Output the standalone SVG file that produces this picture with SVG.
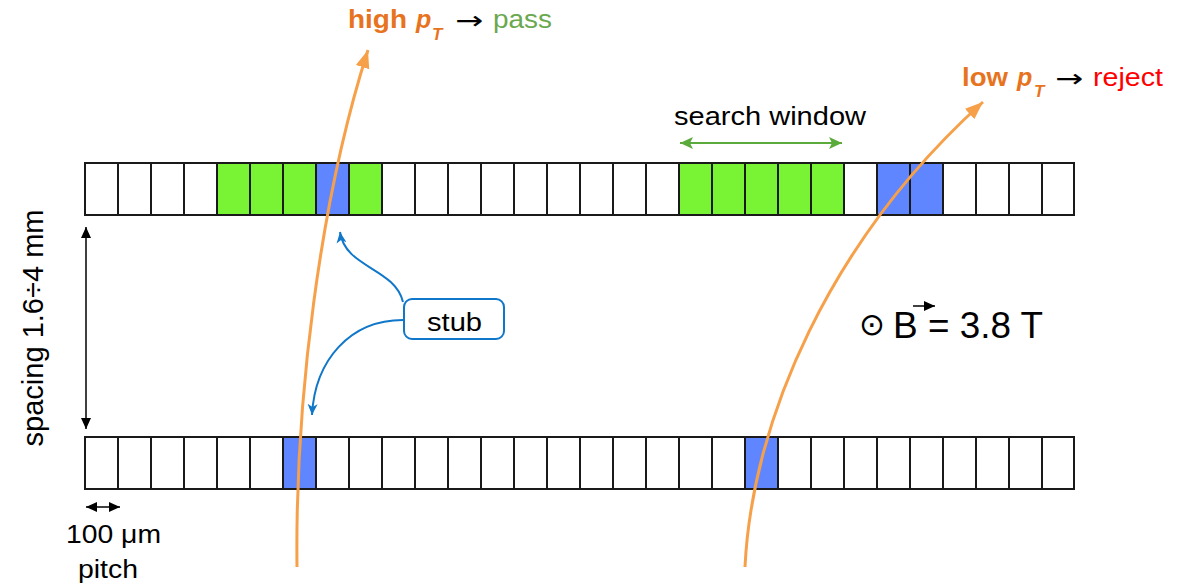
<svg xmlns="http://www.w3.org/2000/svg" width="1194" height="584" viewBox="0 0 1194 584">
<defs>
<style>
.c{fill:#fff;stroke:#1a1a1a;stroke-width:2}
.g{fill:#78F434;stroke:#1a1a1a;stroke-width:2}
.b{fill:#5F86FF;stroke:#1a1a1a;stroke-width:2}
.t{font-family:"Liberation Sans",Arial,sans-serif}
.ar{font-family:"DejaVu Sans",sans-serif}
.trk{fill:none;stroke:#F7A04A;stroke-width:3}
.stubl{fill:none;stroke:#1077C9;stroke-width:2}
</style>
<marker id="ao" markerUnits="userSpaceOnUse" markerWidth="20" markerHeight="20" viewBox="0 0 20 20" refX="18" refY="10" orient="auto"><path d="M0,3 L18,10 L0,17 Z" fill="#F7A04A"/></marker>
<marker id="ab" markerUnits="userSpaceOnUse" markerWidth="12" markerHeight="12" viewBox="0 0 12 12" refX="11" refY="6" orient="auto-start-reverse"><path d="M0,1 L11,6 L0,11 L3,6 Z" fill="#1077C9"/></marker>
<marker id="ak" markerUnits="userSpaceOnUse" markerWidth="12" markerHeight="12" viewBox="0 0 12 12" refX="11" refY="6" orient="auto-start-reverse"><path d="M0,1 L11,6 L0,11 Z" fill="#000"/></marker>
<marker id="ag" markerUnits="userSpaceOnUse" markerWidth="14" markerHeight="14" viewBox="0 0 14 14" refX="13" refY="7" orient="auto-start-reverse"><path d="M0,1 L13,7 L0,13 L3,7 Z" fill="#5AAA3C"/></marker>
</defs>
<rect width="1194" height="584" fill="#fff"/>

<g id="top-strip">
<rect class="c" x="85" y="163" width="33" height="52"/><rect class="c" x="118" y="163" width="33" height="52"/><rect class="c" x="151" y="163" width="33" height="52"/><rect class="c" x="184" y="163" width="33" height="52"/>
<rect class="g" x="217" y="163" width="33" height="52"/><rect class="g" x="250" y="163" width="33" height="52"/><rect class="g" x="283" y="163" width="33" height="52"/><rect class="b" x="316" y="163" width="33" height="52"/><rect class="g" x="349" y="163" width="33" height="52"/>
<rect class="c" x="382" y="163" width="33" height="52"/><rect class="c" x="415" y="163" width="33" height="52"/><rect class="c" x="448" y="163" width="33" height="52"/><rect class="c" x="481" y="163" width="33" height="52"/><rect class="c" x="514" y="163" width="33" height="52"/><rect class="c" x="547" y="163" width="33" height="52"/><rect class="c" x="580" y="163" width="33" height="52"/><rect class="c" x="613" y="163" width="33" height="52"/><rect class="c" x="646" y="163" width="33" height="52"/>
<rect class="g" x="679" y="163" width="33" height="52"/><rect class="g" x="712" y="163" width="33" height="52"/><rect class="g" x="745" y="163" width="33" height="52"/><rect class="g" x="778" y="163" width="33" height="52"/><rect class="g" x="811" y="163" width="33" height="52"/>
<rect class="c" x="844" y="163" width="33" height="52"/><rect class="b" x="877" y="163" width="33" height="52"/><rect class="b" x="910" y="163" width="33" height="52"/>
<rect class="c" x="943" y="163" width="33" height="52"/><rect class="c" x="976" y="163" width="33" height="52"/><rect class="c" x="1009" y="163" width="33" height="52"/><rect class="c" x="1042" y="163" width="32" height="52"/>
</g>

<g id="bottom-strip">
<rect class="c" x="85" y="437" width="33" height="52"/><rect class="c" x="118" y="437" width="33" height="52"/><rect class="c" x="151" y="437" width="33" height="52"/><rect class="c" x="184" y="437" width="33" height="52"/><rect class="c" x="217" y="437" width="33" height="52"/><rect class="c" x="250" y="437" width="33" height="52"/>
<rect class="b" x="283" y="437" width="33" height="52"/>
<rect class="c" x="316" y="437" width="33" height="52"/><rect class="c" x="349" y="437" width="33" height="52"/><rect class="c" x="382" y="437" width="33" height="52"/><rect class="c" x="415" y="437" width="33" height="52"/><rect class="c" x="448" y="437" width="33" height="52"/><rect class="c" x="481" y="437" width="33" height="52"/><rect class="c" x="514" y="437" width="33" height="52"/><rect class="c" x="547" y="437" width="33" height="52"/><rect class="c" x="580" y="437" width="33" height="52"/><rect class="c" x="613" y="437" width="33" height="52"/><rect class="c" x="646" y="437" width="33" height="52"/><rect class="c" x="679" y="437" width="33" height="52"/><rect class="c" x="712" y="437" width="33" height="52"/>
<rect class="b" x="745" y="437" width="33" height="52"/>
<rect class="c" x="778" y="437" width="33" height="52"/><rect class="c" x="811" y="437" width="33" height="52"/><rect class="c" x="844" y="437" width="33" height="52"/><rect class="c" x="877" y="437" width="33" height="52"/><rect class="c" x="910" y="437" width="33" height="52"/><rect class="c" x="943" y="437" width="33" height="52"/><rect class="c" x="976" y="437" width="33" height="52"/><rect class="c" x="1009" y="437" width="33" height="52"/><rect class="c" x="1042" y="437" width="32" height="52"/>
</g>

<g id="connectors">
<path class="trk" d="M297,567 C295,400 320,200 368,50" marker-end="url(#ao)"/>
<path class="trk" d="M745,567 C752,420 830,240 983,102" marker-end="url(#ao)"/>
<path class="stubl" d="M403,302 C395,268 345,268 340,232" marker-end="url(#ab)"/>
<path class="stubl" d="M403,320 C350,320 315,360 312,415" marker-end="url(#ab)"/>
<line x1="680" y1="143" x2="842" y2="143" stroke="#5AAA3C" stroke-width="2" marker-start="url(#ag)" marker-end="url(#ag)"/>
<line x1="86" y1="227" x2="86" y2="429" stroke="#000" stroke-width="1.5" marker-start="url(#ak)" marker-end="url(#ak)"/>
<line x1="86" y1="507" x2="120" y2="507" stroke="#000" stroke-width="1.5" marker-start="url(#ak)" marker-end="url(#ak)"/>
</g>

<g id="label-high">
<text class="t" x="348" y="28" font-size="25" font-weight="bold" fill="#E8731E" textLength="59" lengthAdjust="spacingAndGlyphs">high</text>
<text class="t" x="416" y="28" font-size="25" font-weight="bold" font-style="italic" fill="#E8731E">p</text>
<text class="t" x="432" y="40" font-size="17" font-weight="bold" font-style="italic" fill="#E8731E">T</text>
<text class="ar" x="455" y="29" font-size="25" fill="#000" textLength="28" lengthAdjust="spacingAndGlyphs">→</text>
<text class="t" x="493" y="28" font-size="25" fill="#6AA84F" textLength="59" lengthAdjust="spacingAndGlyphs">pass</text>
</g>

<g id="label-low">
<text class="t" x="962" y="86" font-size="25" font-weight="bold" fill="#E8731E" textLength="46" lengthAdjust="spacingAndGlyphs">low</text>
<text class="t" x="1017" y="86" font-size="25" font-weight="bold" font-style="italic" fill="#E8731E">p</text>
<text class="t" x="1034" y="97" font-size="17" font-weight="bold" font-style="italic" fill="#E8731E">T</text>
<text class="ar" x="1055" y="87" font-size="25" fill="#000" textLength="28" lengthAdjust="spacingAndGlyphs">→</text>
<text class="t" x="1093" y="86" font-size="25" fill="#FF0000" textLength="70" lengthAdjust="spacingAndGlyphs">reject</text>
</g>

<g id="label-search">
<text class="t" x="674" y="125" font-size="25" fill="#000" textLength="192" lengthAdjust="spacingAndGlyphs">search window</text>
</g>

<g id="stub">
<rect x="404" y="299" width="100" height="40" rx="8" fill="#fff" stroke="#1077C9" stroke-width="2"/>
<text class="t" x="427" y="331" font-size="26" fill="#000" textLength="55" lengthAdjust="spacingAndGlyphs">stub</text>
</g>

<g id="field">
<text class="ar" x="872" y="335" font-size="31" fill="#000" text-anchor="middle">⊙</text>
<text class="t" x="893" y="338" font-size="37" fill="#000">B</text>
<line x1="913" y1="306" x2="935" y2="306" stroke="#000" stroke-width="1.5" marker-end="url(#ak)"/>
<text class="t" x="928" y="338" font-size="37" fill="#000" textLength="115" lengthAdjust="spacingAndGlyphs">= 3.8 T</text>
</g>

<g id="label-spacing">
<text class="t" transform="translate(43,328) rotate(-90)" font-size="29" fill="#000" text-anchor="middle" textLength="237" lengthAdjust="spacingAndGlyphs">spacing 1.6÷4 mm</text>
</g>

<g id="label-pitch">
<text class="t" x="66" y="543" font-size="25" fill="#000" textLength="95" lengthAdjust="spacingAndGlyphs">100 μm</text>
<text class="t" x="78" y="578" font-size="25" fill="#000" textLength="60" lengthAdjust="spacingAndGlyphs">pitch</text>
</g>
</svg>
